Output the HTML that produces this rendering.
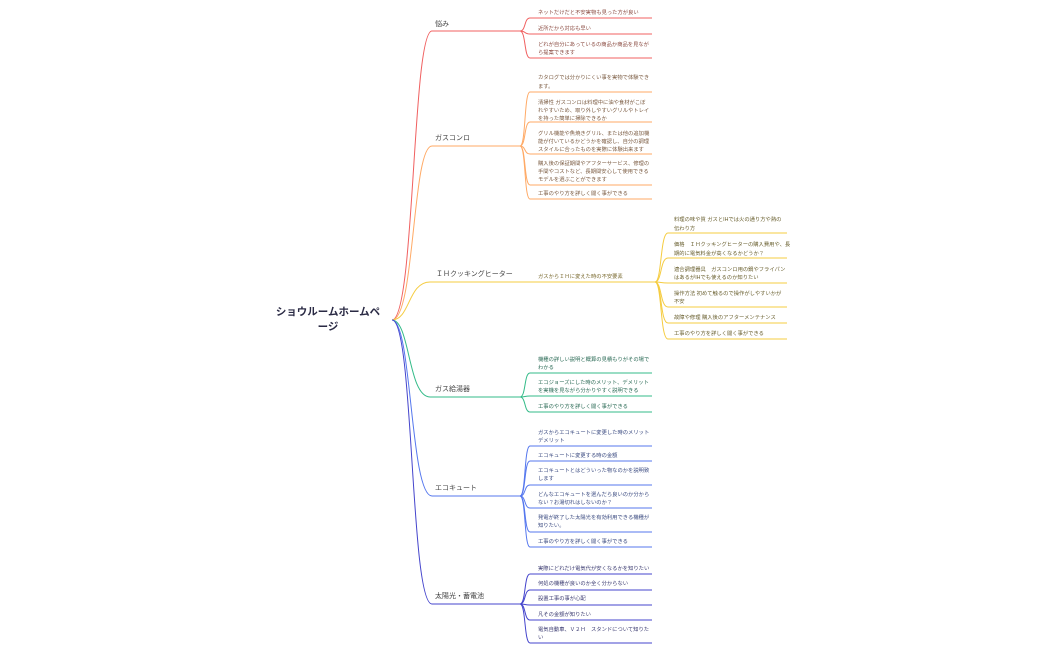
<!DOCTYPE html>
<html><head><meta charset="utf-8"><style>
html,body{margin:0;padding:0;background:#fff;width:1050px;height:650px;overflow:hidden}
svg{display:block}
text{font-family:"Liberation Sans","Noto Sans CJK JP",sans-serif}
.c{font-size:5.3px}
.b{font-size:7px;fill:#444}
</style></head><body>
<svg width="1050" height="650" viewBox="0 0 1050 650" xmlns="http://www.w3.org/2000/svg" fill="none" stroke-width="1">
<text x="328" y="315" text-anchor="middle" style="font-size:10.5px;font-weight:bold;fill:#2a2a44">ショウルームホームペ</text>
<text x="328" y="330" text-anchor="middle" style="font-size:10.5px;font-weight:bold;fill:#2a2a44">ージ</text>

<g>
<path d="M392,320 C415,320 412,31 432,31 H520" stroke="#f06060"/>
<path d="M392,320 C415,320 412,146 432,146 H520" stroke="#ffaa66"/>
<path d="M392,320 C410,320 408,282 430,282 H655" stroke="#f5cc40"/>
<path d="M392,320 C410,320 408,397 430,397 H520" stroke="#33bb88"/>
<path d="M392,320 C412,320 410,496 432,496 H520" stroke="#5577ee"/>
<path d="M392,320 C414,320 410,604 432,604 H520" stroke="#4444cc"/>
</g>
<text class="b" x="435" y="26">悩み</text>
<text class="b" x="435" y="140">ガスコンロ</text>
<text class="b" x="436" y="276">ＩＨクッキングヒーター</text>
<text class="b" x="435" y="391">ガス給湯器</text>
<text class="b" x="435" y="490">エコキュート</text>
<text class="b" x="435" y="598">太陽光・蓄電池</text>

<g stroke="#f06060">
<path d="M520,31 C526,31 524,18 530,18 H652"/>
<path d="M520,31 C526,31 524,34 530,34 H652"/>
<path d="M520,31 C526,31 524,58 530,58 H652"/>
</g>
<g class="c" fill="#8a4a40">
<text x="538" y="14">ネットだけだと不安実物も見った方が良い</text>
<text x="538" y="30">近所だから対応も早い</text>
<text x="538" y="46">どれが自分にあっているの商品か商品を見なが</text>
<text x="538" y="54">ら提案できます</text>
</g>

<g stroke="#ffaa66">
<path d="M520,146 C526,146 524,92 530,92 H652"/>
<path d="M520,146 C526,146 524,122 530,122 H652"/>
<path d="M520,146 C526,146 524,154 530,154 H652"/>
<path d="M520,146 C526,146 524,185 530,185 H652"/>
<path d="M520,146 C526,146 524,199 530,199 H652"/>
</g>
<g class="c" fill="#7a5a40">
<text x="538" y="79">カタログでは分かりにくい事を実物で体験でき</text>
<text x="538" y="88">ます。</text>
<text x="538" y="104">清掃性 ガスコンロは料理中に油や食材がこぼ</text>
<text x="538" y="112">れやすいため、取り外しやすいグリルやトレイ</text>
<text x="538" y="120">を持った簡単に掃除できるか</text>
<text x="538" y="135">グリル機能や魚焼きグリル、または他の追加機</text>
<text x="538" y="143">能が付いているかどうかを確認し、自分の調理</text>
<text x="538" y="151">スタイルに合ったものを実際に体験出来ます</text>
<text x="538" y="165">購入後の保証期間やアフターサービス、修理の</text>
<text x="538" y="173">手間やコストなど、長期間安心して使用できる</text>
<text x="538" y="181">モデルを選ぶことができます</text>
<text x="538" y="195">工事のやり方を詳しく聞く事ができる</text>
</g>

<text class="c" x="538" y="278" fill="#7a6a30">ガスからＩＨに変えた時の不安要素</text>
<g stroke="#f5cc40">
<path d="M655,282 C662,282 660,233 668,233 H787"/>
<path d="M655,282 C662,282 660,258 668,258 H787"/>
<path d="M655,282 C662,282 660,283 668,283 H787"/>
<path d="M655,282 C662,282 660,307 668,307 H787"/>
<path d="M655,282 C662,282 660,323 668,323 H787"/>
<path d="M655,282 C662,282 660,339 668,339 H787"/>
</g>
<g class="c" fill="#6a6030">
<text x="674" y="221">料理の味や質 ガスとIHでは火の通り方や熱の</text>
<text x="674" y="230">伝わり方</text>
<text x="674" y="246">価格　ＩＨクッキングヒーターの購入費用や、長</text>
<text x="674" y="255">期的に電気料金が高くなるかどうか？</text>
<text x="674" y="271">適合調理器具　ガスコンロ用の鍋やフライパン</text>
<text x="674" y="279">はあるがIHでも使えるのか知りたい</text>
<text x="674" y="295">操作方法 初めて触るので操作がしやすいかが</text>
<text x="674" y="303">不安</text>
<text x="674" y="319">故障や修理 購入後のアフターメンテナンス</text>
<text x="674" y="335">工事のやり方を詳しく聞く事ができる</text>
</g>

<g stroke="#33bb88">
<path d="M520,397 C526,397 524,373 530,373 H652"/>
<path d="M520,397 C526,397 524,396 530,396 H652"/>
<path d="M520,397 C526,397 524,412 530,412 H652"/>
</g>
<g class="c" fill="#2a6a55">
<text x="538" y="361">機種の詳しい説明と概算の見積もりがその場で</text>
<text x="538" y="369">わかる</text>
<text x="538" y="384">エコジョーズにした時のメリット、デメリット</text>
<text x="538" y="392">を実機を見ながら分かりやすく説明できる</text>
<text x="538" y="408">工事のやり方を詳しく聞く事ができる</text>
</g>

<g stroke="#5577ee">
<path d="M520,496 C526,496 524,446 530,446 H652"/>
<path d="M520,496 C526,496 524,461 530,461 H652"/>
<path d="M520,496 C526,496 524,485 530,485 H652"/>
<path d="M520,496 C526,496 524,508 530,508 H652"/>
<path d="M520,496 C526,496 524,532 530,532 H652"/>
<path d="M520,496 C526,496 524,547 530,547 H652"/>
</g>
<g class="c" fill="#3a4a80">
<text x="538" y="434">ガスからエコキュートに変更した時のメリット</text>
<text x="538" y="442">デメリット</text>
<text x="538" y="457">エコキュートに変更する時の金額</text>
<text x="538" y="472">エコキュートとはどういった物なのかを説明致</text>
<text x="538" y="480">します</text>
<text x="538" y="496">どんなエコキュートを選んだら良いのか分から</text>
<text x="538" y="504">ない？お湯切れはしないのか？</text>
<text x="538" y="519">発電が終了した太陽光を有効利用できる機種が</text>
<text x="538" y="527">知りたい。</text>
<text x="538" y="543">工事のやり方を詳しく聞く事ができる</text>
</g>

<g stroke="#4444cc">
<path d="M520,604 C526,604 524,574 530,574 H652"/>
<path d="M520,604 C526,604 524,590 530,590 H652"/>
<path d="M520,604 C526,604 524,605 530,605 H652"/>
<path d="M520,604 C526,604 524,620 530,620 H652"/>
<path d="M520,604 C526,604 524,643 530,643 H652"/>
</g>
<g class="c" fill="#3a3a70">
<text x="538" y="570">実際にどれだけ電気代が安くなるかを知りたい</text>
<text x="538" y="585">何処の機種が良いのか全く分からない</text>
<text x="538" y="600">設置工事の事が心配</text>
<text x="538" y="616">凡その金額が知りたい</text>
<text x="538" y="631">電気自動車、Ｖ２Ｈ　スタンドについて知りた</text>
<text x="538" y="639">い</text>
</g>
</svg>
</body></html>
